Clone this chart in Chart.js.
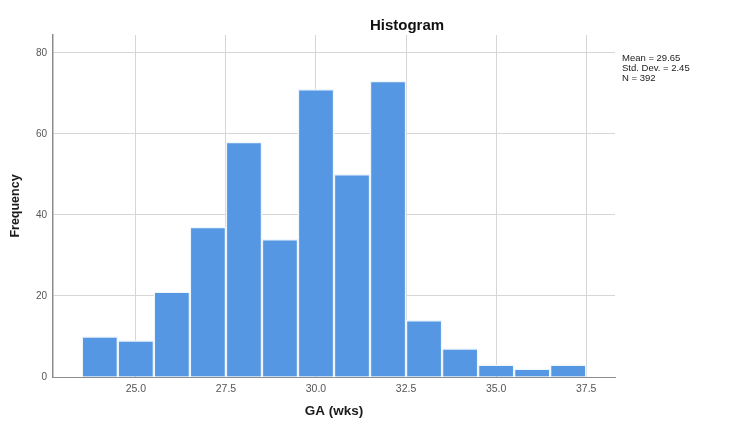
<!DOCTYPE html>
<html>
<head>
<meta charset="utf-8">
<script src="https://cdn.jsdelivr.net/npm/chart.js@4/dist/chart.umd.min.js"></script>
<style>
  html, body { margin: 0; padding: 0; background: #fff; }
  #wrap { width: 750px; height: 432px; position: relative; }
</style>
</head>
<body>
<div id="wrap"><canvas id="histChart"></canvas></div>
<script>
// bin centres (weeks) and counts
var binCenters = [24, 25, 26, 27, 28, 29, 30, 31, 32, 33, 34, 35, 36, 37];
var frequencies = [10, 9, 21, 37, 58, 34, 71, 50, 73, 14, 7, 3, 2, 3];
var xTicks = [25, 27.5, 30, 32.5, 35, 37.5];
var yTicks = [0, 20, 40, 60, 80];
var statsMean = 29.65;
var statsSd = 2.45;
var statsN = 392;

var points = binCenters.map(function (c, i) { return { x: c, y: frequencies[i] }; });

// title + the stats box on the right
var annotations = {
    id: 'annotations',
    afterDraw: function (chart) {
        var ctx = chart.ctx;
        ctx.save();
        ctx.fillStyle = '#111';
        ctx.font = 'bold 15px "Liberation Sans", Arial, sans-serif';
        ctx.textAlign = 'center';
        ctx.textBaseline = 'middle';
        ctx.fillText('Histogram', 407, 26);

        ctx.font = '9.5px "Liberation Sans", Arial, sans-serif';
        ctx.textAlign = 'left';
        ctx.fillStyle = '#222';
        ctx.fillText('Mean = ' + statsMean.toFixed(2), 622, 58);
        ctx.fillText('Std. Dev. = ' + statsSd.toFixed(2), 622, 68);
        ctx.fillText('N = ' + statsN, 622, 78);
        ctx.restore();
    }
};

var ctx = document.getElementById('histChart').getContext('2d');
new Chart(ctx, {
    type: 'bar',
    data: {
        datasets: [{
            label: 'Frequency',
            data: points,
            backgroundColor: '#5597e2',
            borderColor: '#eef5fc',
            borderWidth: 1.5,
            borderSkipped: 'bottom',
            barPercentage: 1,
            categoryPercentage: 1
        }]
    },
    options: {
        responsive: true,
        maintainAspectRatio: false,
        animation: false,
        layout: { padding: { top: 35, right: 135, left: 0, bottom: 0 } },
        plugins: {
            legend: { display: false },
            tooltip: { enabled: false }
        },
        scales: {
            x: {
                type: 'linear',
                min: 22.7,
                max: 38.3,
                offset: false,
                afterFit: function (scale) { scale.height = 55; },
                afterBuildTicks: function (scale) {
                    scale.ticks = xTicks.map(function (v) { return { value: v }; });
                },
                grid: { color: '#d6d6d6', lineWidth: 1, drawTicks: false, offset: false },
                border: { display: true, color: '#8c8c8c', width: 1 },
                ticks: {
                    padding: 6,
                    color: '#555',
                    font: { size: 10.5, family: '"Liberation Sans", Arial, sans-serif' },
                    callback: function (v) { return Number(v).toFixed(1); }
                },
                title: {
                    display: true,
                    text: 'GA (wks)',
                    color: '#1a1a1a',
                    font: { size: 13.5, weight: 'bold', family: '"Liberation Sans", Arial, sans-serif' },
                    padding: { top: 2, bottom: 13 }
                }
            },
            y: {
                min: 0,
                max: 84.4,
                afterFit: function (scale) { scale.width = 53; },
                afterBuildTicks: function (scale) {
                    scale.ticks = yTicks.map(function (v) { return { value: v }; });
                },
                grid: { color: '#d6d6d6', lineWidth: 1, drawTicks: false },
                border: { display: true, color: '#8c8c8c', width: 1.5 },
                ticks: {
                    padding: 6,
                    color: '#555',
                    font: { size: 10, family: '"Liberation Sans", Arial, sans-serif' }
                },
                title: {
                    display: true,
                    text: 'Frequency',
                    color: '#1a1a1a',
                    font: { size: 12.5, weight: 'bold', family: '"Liberation Sans", Arial, sans-serif' },
                    padding: { top: 8, bottom: 6 }
                }
            }
        }
    },
    plugins: [annotations]
});
</script>
</body>
</html>
